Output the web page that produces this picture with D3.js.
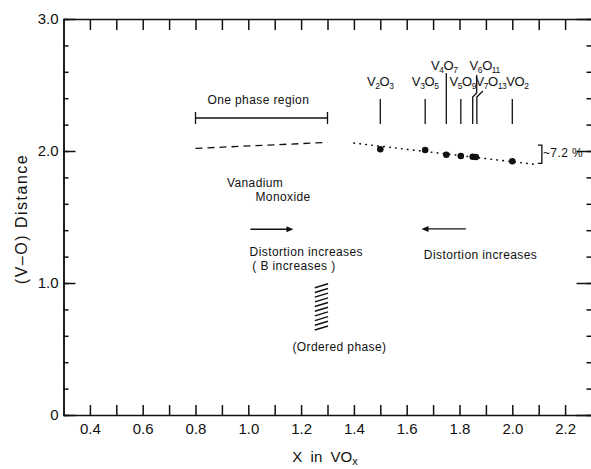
<!DOCTYPE html>
<html>
<head>
<meta charset="utf-8">
<script src="https://cdn.jsdelivr.net/npm/d3@7"></script>
<style>
  body { margin: 0; background: #fff; }
  svg { display: block; font-family: "Liberation Sans", Arial, sans-serif; }
  .axis text { font-size: 15px; fill: #111; }
  .axis line, .axis path { stroke: #111; stroke-width: 1.5; }
  .note { font-size: 12px; fill: #111; letter-spacing: 0.4px; }
</style>
</head>
<body>
<svg id="chart" width="591" height="469"></svg>
<script>
// ticks
const xTickValues = [0.4, 0.5, 0.6, 0.7, 0.8, 0.9, 1.0, 1.1, 1.2, 1.3, 1.4, 1.5, 1.6, 1.7, 1.8, 1.9, 2.0, 2.1, 2.2];
const xTickLabels = [0.4, 0.6, 0.8, 1.0, 1.2, 1.4, 1.6, 1.8, 2.0, 2.2];
const yTickValues = [0, 0.2, 0.4, 0.6, 0.8, 1.0, 1.2, 1.4, 1.6, 1.8, 2.0, 2.2, 2.4, 2.6, 2.8, 3.0];
const yTickLabels = [0, 1.0, 2.0, 3.0];

// oxides (Magneli phases), composition x and V-O distance
const compoundNames = ["V2O3", "V3O5", "V4O7", "V5O9", "V6O11", "V7O13", "VO2"];
const compoundX = [1.5, 1.67, 1.75, 1.805, 1.85, 1.862, 2.0];
const compoundDist = [2.013, 2.008, 1.972, 1.962, 1.957, 1.955, 1.922];
const labelRow = [0, 0, 1, 0, 1, 0, 0]; // 1 = upper row

// dashed line over the monoxide region, dotted trend through the oxides
const monoxideX = [0.8, 1.3];
const monoxideDist = [2.02, 2.065];
const trendX = [1.4, 2.08];
const trendDist = [2.06, 1.9];

// one phase region and the ~7.2 % drop
const onePhaseX = [0.8, 1.3];
const onePhaseDist = 2.25;
const dropRange = [2.045, 1.907];

// hatch for the ordered phase
const hatchX = [1.252, 1.302];
const hatchDist = [0.964, 0.928, 0.893, 0.857, 0.822, 0.786, 0.751, 0.715, 0.68, 0.644];

const notes = [
  { text: "One phase region", x: 1.038, y: 2.386, anchor: "middle" },
  { text: "Vanadium", x: 0.919, y: 1.758, anchor: "start" },
  { text: "Monoxide", x: 1.027, y: 1.652, anchor: "start" },
  { text: "Distortion increases", x: 1.005, y: 1.235, anchor: "start" },
  { text: "( B increases )", x: 1.015, y: 1.129, anchor: "start" },
  { text: "(Ordered phase)", x: 1.167, y: 0.515, anchor: "start" },
  { text: "Distortion increases", x: 1.665, y: 1.212, anchor: "start" },
  { text: "~7.2 %", x: 2.116, y: 1.985, anchor: "start" }
];
const arrows = [
  { x: [1.008, 1.171], y: 1.407 },
  { x: [1.824, 1.656], y: 1.41 }
];

const svg = d3.select("#chart");
const x = d3.scaleLinear().domain([0.3, 2.3]).range([63.5, 591.5]);
const y = d3.scaleLinear().domain([0, 3]).range([415, 19]);
const ink = "#111";

const isIn = (arr, d) => arr.some(v => Math.abs(v - d) < 1e-6);

// axes, ticks pointing inward
svg.append("g").attr("class", "axis")
    .attr("transform", `translate(0,${y(0)})`)
    .call(d3.axisBottom(x).tickValues(xTickValues).tickSizeInner(-10).tickSizeOuter(0).tickPadding(8)
      .tickFormat(d => isIn(xTickLabels, d) ? d.toFixed(1) : ""));

svg.append("g").attr("class", "axis")
    .attr("transform", `translate(0,${y(3)})`)
    .call(d3.axisTop(x).tickValues(xTickValues).tickSizeInner(-11).tickSizeOuter(0).tickFormat(""));

svg.append("g").attr("class", "axis")
    .attr("transform", `translate(${x(0.3)},0)`)
    .call(d3.axisLeft(y).tickValues(yTickValues).tickSizeInner(-5).tickSizeOuter(0).tickPadding(5)
      .tickFormat(d => isIn(yTickLabels, d) ? (d === 0 ? "0" : d.toFixed(1)) : ""));
svg.append("g").attr("class", "axis")
    .attr("transform", `translate(${x(0.3)},0)`)
    .call(d3.axisLeft(y).tickValues(yTickLabels).tickSizeInner(-12).tickSizeOuter(0).tickFormat(""));

svg.append("g").attr("class", "axis")
    .attr("transform", `translate(${x(2.3)},0)`)
    .call(d3.axisRight(y).tickValues(yTickValues).tickSizeInner(-5).tickSizeOuter(0).tickFormat(""));
svg.append("g").attr("class", "axis")
    .attr("transform", `translate(${x(2.3)},0)`)
    .call(d3.axisRight(y).tickValues(yTickLabels).tickSizeInner(-15).tickSizeOuter(0).tickFormat(""));

svg.selectAll(".axis text").attr("fill", ink);

// axis titles
svg.append("text")
    .attr("x", 325).attr("y", 462)
    .attr("text-anchor", "middle")
    .attr("font-size", 15).attr("fill", ink)
    .style("white-space", "pre")
    .call(t => {
      t.append("tspan").text("X  in  VO");
      t.append("tspan").attr("font-size", 11).attr("dy", 3).text("x");
    });

svg.append("text")
    .attr("transform", `translate(27,${(y(0) + y(3)) / 2 + 2}) rotate(-90)`)
    .attr("text-anchor", "middle")
    .attr("font-size", 16).attr("fill", ink)
    .attr("letter-spacing", 1.5)
    .text("(V\u2013O) Distance");

// dashed monoxide line
const line = d3.line().x(d => x(d[0])).y(d => y(d[1]));
svg.append("path")
    .attr("d", line(d3.zip(monoxideX, monoxideDist)))
    .attr("fill", "none").attr("stroke", ink).attr("stroke-width", 1.3)
    .attr("stroke-dasharray", "7,5");

// dotted trend
svg.append("path")
    .attr("d", line(d3.zip(trendX, trendDist)))
    .attr("fill", "none").attr("stroke", ink).attr("stroke-width", 1.6)
    .attr("stroke-linecap", "round")
    .attr("stroke-dasharray", "0.5,5.5");

// oxide points
svg.append("g")
  .selectAll("circle")
  .data(compoundNames)
  .join("circle")
    .attr("cx", (d, i) => x(compoundX[i]))
    .attr("cy", (d, i) => y(compoundDist[i]))
    .attr("r", 3.3)
    .attr("fill", ink);

// formula labels with subscripts (packed tight, as in the figure)
const labelDx = { V4O7: -2, V5O9: 2, V6O11: 12, V7O13: 15, VO2: 5 };
const labels = svg.append("g").attr("font-size", 13).attr("fill", ink).attr("letter-spacing", -0.4);
compoundNames.forEach((name, i) => {
  const t = labels.append("text")
      .attr("x", x(compoundX[i]) + (labelDx[name] || 0))
      .attr("y", labelRow[i] ? 70 : 86)
      .attr("text-anchor", "middle");
  let shifted = false;
  for (const [, el, num] of name.matchAll(/([A-Z][a-z]?)(\d*)/g)) {
    t.append("tspan").attr("dy", shifted ? -3 : 0).text(el);
    shifted = false;
    if (num) {
      t.append("tspan").attr("font-size", 8.5).attr("dy", 3).text(num);
      shifted = true;
    }
  }
});

// leader lines from labels
const leaders = svg.append("g").attr("fill", "none").attr("stroke", ink).attr("stroke-width", 1.3);
compoundNames.forEach((name, i) => {
  const cx = x(compoundX[i]);
  let pts;
  if (name === "V6O11") pts = [[cx + 4, 75], [cx + 4, 93], [cx, 97], [cx, 124]];
  else if (name === "V7O13") pts = [[cx + 7, 91], [cx + 1, 97], [cx + 1, 124]];
  else if (labelRow[i]) pts = [[cx, 73], [cx, 124]];
  else pts = [[cx, 99], [cx, 124]];
  leaders.append("path").attr("d", d3.line()(pts));
});

// one phase region bracket
const op = svg.append("g").attr("stroke", ink).attr("stroke-width", 1.3);
op.append("line")
    .attr("x1", x(onePhaseX[0])).attr("x2", x(onePhaseX[1]))
    .attr("y1", y(onePhaseDist)).attr("y2", y(onePhaseDist));
onePhaseX.forEach(v => op.append("line")
    .attr("x1", x(v)).attr("x2", x(v))
    .attr("y1", y(onePhaseDist) - 6).attr("y2", y(onePhaseDist) + 6));

// ~7.2 % bracket
const bx = x(2.112);
svg.append("path")
    .attr("d", `M${bx - 4},${y(dropRange[0])}H${bx}V${y(dropRange[1])}H${bx - 4}`)
    .attr("fill", "none").attr("stroke", ink).attr("stroke-width", 1.3);

// hatch
svg.append("g").attr("stroke", ink).attr("stroke-width", 1.4)
  .selectAll("line")
  .data(hatchDist)
  .join("line")
    .attr("x1", x(hatchX[0])).attr("x2", x(hatchX[1]))
    .attr("y1", d => y(d)).attr("y2", d => y(d) - 4);

// arrows
arrows.forEach(a => {
  const x0 = x(a.x[0]), x1 = x(a.x[1]), yy = y(a.y);
  const dir = Math.sign(x1 - x0);
  svg.append("line")
      .attr("x1", x0).attr("x2", x1 - dir * 4)
      .attr("y1", yy).attr("y2", yy)
      .attr("stroke", ink).attr("stroke-width", 1.4);
  svg.append("path")
      .attr("d", `M${x1},${yy}L${x1 - dir * 7},${yy - 3}L${x1 - dir * 7},${yy + 3}Z`)
      .attr("fill", ink);
});

// text notes
svg.append("g")
  .selectAll("text")
  .data(notes)
  .join("text")
    .attr("class", "note")
    .attr("x", d => x(d.x))
    .attr("y", d => y(d.y))
    .attr("dy", "0.35em")
    .attr("text-anchor", d => d.anchor)
    .style("white-space", "pre")
    .text(d => d.text);
</script>
</body>
</html>
